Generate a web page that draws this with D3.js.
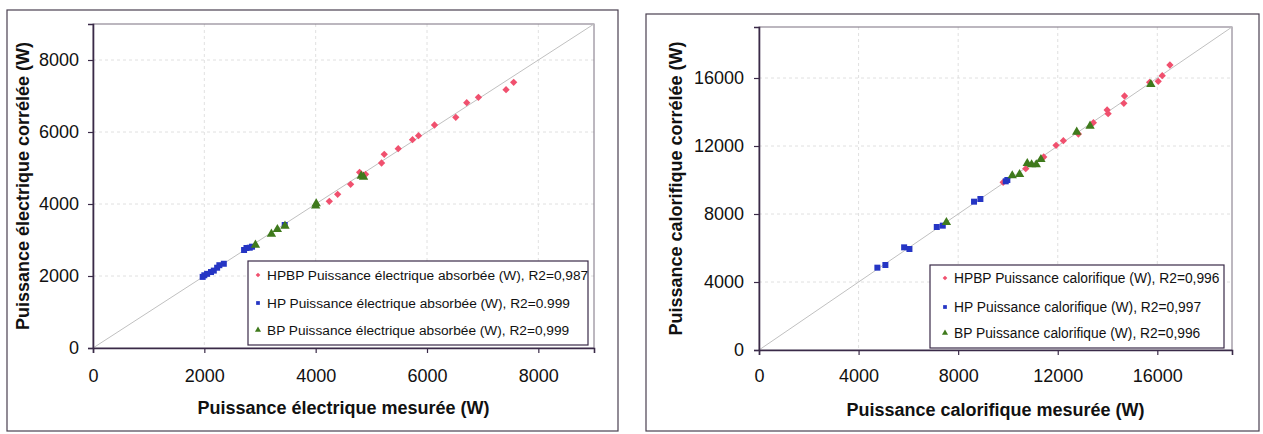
<!DOCTYPE html>
<html>
<head>
<meta charset="utf-8">
<script src="https://cdn.jsdelivr.net/npm/d3@7"></script>
<style>
  html, body { margin: 0; padding: 0; background: #fff; }
  svg { display: block; font-family: "Liberation Sans", Arial, sans-serif; }
</style>
</head>
<body>
<svg id="chart" width="1263" height="434"></svg>
<script>
// ---------- Data ----------
// Left chart: electrical power [measured, correlated] (W)
const elecHPBP = [[4245,4074],[4395,4269],[4628,4546],[4789,4880],[4897,4824],[5184,5139],[5232,5380],
  [5483,5537],[5740,5787],[5848,5898],[6135,6194],[6517,6407],[6714,6815],[6924,6963],[7420,7175],[7557,7380]];
const elecHP = [[1970,1975],[2000,2020],[2050,2060],[2120,2110],[2170,2150],[2230,2230],[2270,2300],[2350,2340],
  [2714,2722],[2757,2778],[2816,2786],[2857,2814],[3444,3417]];
const elecBP = [[2918,2861],[3205,3167],[3312,3296],[3449,3389],[4000,3950],[4010,4010],[4818,4778],[4860,4750]];

// Right chart: heating power [measured, correlated] (W)
const caloHPBP = [[9807,9863],[10715,10666],[11437,11353],[11932,12039],[12226,12314],[12829,12706],[13432,13373],
  [13984,14118],[14024,13902],[14656,14510],[14683,14941],[15690,15745],[16036,15804],[16197,16137],[16506,16765]];
const caloHP = [[4755,4843],[5077,5000],[5830,6039],[6043,5941],[7141,7235],[7382,7314],[8638,8725],[8893,8882],
  [9912,9922],[9976,10000]];
const caloBP = [[7528,7510],[10173,10255],[10467,10333],[10776,10980],[10950,10902],[11138,10902],[11324,11216],
  [12762,12824],[13298,13176],[15740,15627]];

const elecTicks = [0, 2000, 4000, 6000, 8000];
const caloTicks = [0, 4000, 8000, 12000, 16000];
const elecMax = 9000;
const caloMax = 19000;

const elecLegend = ["HPBP Puissance électrique absorbée (W), R2=0,987",
                    "HP Puissance électrique absorbée (W), R2=0.999",
                    "BP Puissance électrique absorbée (W), R2=0,999"];
const caloLegend = ["HPBP Puissance calorifique (W), R2=0,996",
                    "HP Puissance calorifique (W), R2=0,997",
                    "BP Puissance calorifique (W), R2=0,996"];
const elecTitles = ["Puissance électrique mesurée (W)", "Puissance électrique corrélée (W)"];
const caloTitles = ["Puissance calorifique mesurée (W)", "Puissance calorifique corrélée (W)"];

// ---------- Styles ----------
const colors = { HPBP: "#f0506e", HP: "#2535c4", BP: "#3f7a1c" };
const svg = d3.select("#chart");

function drawPanel(cfg) {
  const g = svg.append("g");
  // outer frame
  g.append("rect").attr("x", cfg.frame[0]).attr("y", cfg.frame[1])
    .attr("width", cfg.frame[2]).attr("height", cfg.frame[3])
    .attr("fill", "none").attr("stroke", "#4a4050").attr("stroke-width", 1.2);

  const x = d3.scaleLinear().domain([0, cfg.max]).range([cfg.left, cfg.right]);
  const y = d3.scaleLinear().domain([0, cfg.max]).range([cfg.bottom, cfg.top]);

  // grid
  const grid = g.append("g").attr("stroke", "#d8d8d8").attr("stroke-dasharray", "3,3").attr("stroke-width", 0.8);
  cfg.ticks.filter(t => t > 0).forEach(t => {
    grid.append("line").attr("x1", x(t)).attr("x2", x(t)).attr("y1", cfg.top).attr("y2", cfg.bottom);
    grid.append("line").attr("y1", y(t)).attr("y2", y(t)).attr("x1", cfg.left).attr("x2", cfg.right);
  });
  // plot border (top/right)
  g.append("rect").attr("x", cfg.left).attr("y", cfg.top)
    .attr("width", cfg.right - cfg.left).attr("height", cfg.bottom - cfg.top)
    .attr("fill", "none").attr("stroke", "#7a7080").attr("stroke-width", 1);

  // diagonal y = x
  g.append("line").attr("x1", x(0)).attr("y1", y(0)).attr("x2", x(cfg.max)).attr("y2", y(cfg.max))
    .attr("stroke", "#c0c0c0").attr("stroke-width", 1);

  // axes
  const xAxis = d3.axisBottom(x).tickValues(cfg.ticks).tickSize(5).tickPadding(cfg.xPad).tickFormat(d3.format("d"));
  const yAxis = d3.axisLeft(y).tickValues(cfg.ticks).tickSize(5).tickPadding(cfg.yPad).tickFormat(d3.format("d"));
  const gx = g.append("g").attr("transform", `translate(0,${cfg.bottom})`).call(xAxis);
  const gy = g.append("g").attr("transform", `translate(${cfg.left},0)`).call(yAxis);
  [gx, gy].forEach(a => {
    a.select(".domain").attr("stroke", "#3a2a48").attr("stroke-width", 1.6);
    a.selectAll(".tick line").attr("stroke", "#3a2a48").attr("stroke-width", 1.2);
    a.selectAll(".tick text").attr("font-size", 18).attr("fill", "#111")
      .attr("font-family", "'Liberation Sans', Arial, sans-serif");
  });

  // markers
  const sym = {
    HPBP: d3.symbol().type(d3.symbolDiamond2).size(34),
    HP: d3.symbol().type(d3.symbolSquare).size(36),
    BP: d3.symbol().type(d3.symbolTriangle).size(38)
  };
  const seriesOrder = ["HPBP", "HP", "BP"];
  seriesOrder.forEach(k => {
    g.append("g").selectAll("path").data(cfg.data[k]).join("path")
      .attr("d", sym[k]())
      .attr("transform", d => `translate(${x(d[0])},${y(d[1])})`)
      .attr("fill", colors[k]);
  });

  // legend
  const L = cfg.legend;
  g.append("rect").attr("x", L.x).attr("y", L.y).attr("width", L.w).attr("height", L.h)
    .attr("fill", "#fff").attr("stroke", "#3a2a48").attr("stroke-width", 1.2);
  const lsym = {
    HPBP: d3.symbol().type(d3.symbolDiamond2).size(14),
    HP: d3.symbol().type(d3.symbolSquare).size(14),
    BP: d3.symbol().type(d3.symbolTriangle).size(16)
  };
  seriesOrder.forEach((k, i) => {
    const cy = L.rows[i];
    g.append("path").attr("d", lsym[k]()).attr("transform", `translate(${L.mx},${cy})`).attr("fill", colors[k]);
    g.append("text").attr("x", L.tx).attr("y", cy).attr("dy", "0.36em")
      .attr("font-size", L.fs).attr("fill", "#111").text(cfg.legendText[i]);
  });

  // axis titles
  g.append("text").attr("x", (cfg.left + cfg.right) / 2).attr("y", cfg.xTitleY)
    .attr("text-anchor", "middle").attr("font-size", 18).attr("font-weight", "bold").attr("fill", "#111")
    .text(cfg.titles[0]);
  g.append("text").attr("transform", `translate(${cfg.yTitleX},${(cfg.top + cfg.bottom) / 2}) rotate(-90)`)
    .attr("text-anchor", "middle").attr("font-size", 18).attr("font-weight", "bold").attr("fill", "#111")
    .text(cfg.titles[1]);
}

drawPanel({
  frame: [7, 10, 611, 421],
  left: 93, right: 594, top: 24, bottom: 348,
  max: elecMax, ticks: elecTicks, xPad: 16, yPad: 9,
  data: { HPBP: elecHPBP, HP: elecHP, BP: elecBP },
  legend: { x: 248, y: 261, w: 340, h: 84, rows: [275, 303, 330], mx: 258, tx: 267, fs: 13.7 },
  legendText: elecLegend,
  titles: elecTitles, xTitleY: 414, yTitleX: 29
});

drawPanel({
  frame: [646, 14, 613, 417],
  left: 759, right: 1232, top: 27, bottom: 350,
  max: caloMax, ticks: caloTicks, xPad: 14, yPad: 10,
  data: { HPBP: caloHPBP, HP: caloHP, BP: caloBP },
  legend: { x: 930, y: 265, w: 294, h: 83, rows: [278, 307, 333], mx: 945, tx: 954, fs: 13.8 },
  legendText: caloLegend,
  titles: caloTitles, xTitleY: 416, yTitleX: 682
});
</script>
</body>
</html>
